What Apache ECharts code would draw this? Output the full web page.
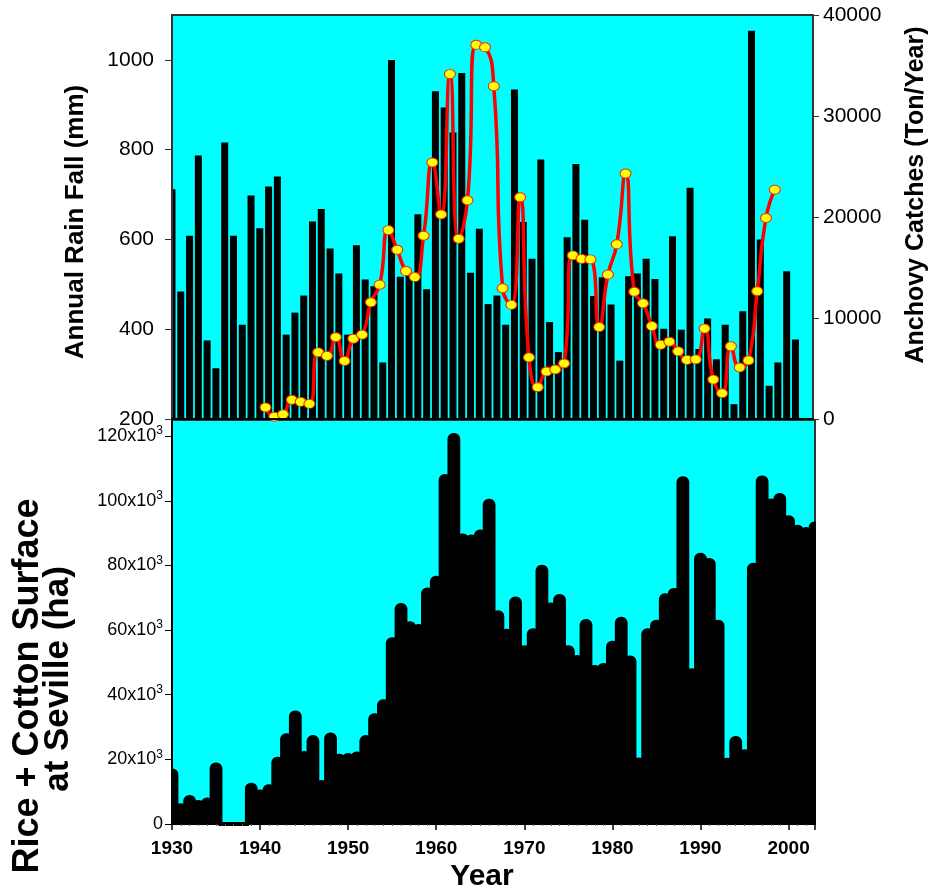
<!DOCTYPE html>
<html>
<head>
<meta charset="utf-8">
<script src="https://cdn.jsdelivr.net/npm/echarts@6/dist/echarts.min.js"></script>
<style>
  html, body { margin: 0; padding: 0; background: #fff; }
  #chart { width: 932px; height: 890px; }
</style>
</head>
<body>
<div id="chart"></div>
<script>
// annual rain fall (mm), one value a year from 1930
var rainStart = 1930;
var rainFall = [712, 484, 608, 787, 375, 313, 816, 608, 410, 698,
                625, 718, 740, 388, 437, 475, 640, 668, 580, 524,
                388, 587, 511, 496, 326, 1000, 517, 519, 656, 489,
                930, 894, 838, 971, 526, 624, 456, 475, 410, 934,
                639, 557, 778, 416, 349, 605, 768, 644, 474, 516,
                455, 330, 518, 524, 557, 512, 401, 607, 399, 715,
                356, 424, 333, 410, 233, 440, 1065, 600, 274, 326,
                529, 377];

// anchovy catches (ton/year), one value a year from 1941
var anchovyStart = 1941;
var anchovy = [1150, 230, 460, 1900, 1700, 1500, 6600, 6250, 8100, 5750,
               7950, 8350, 11550, 13300, 18700, 16750, 14650, 14050, 18150, 25400,
               20250, 34150, 17850, 21650, 37050, 36800, 32950, 12950, 11300, 21950,
               6100, 3150, 4700, 4900, 5500, 16200, 15850, 15800, 9100, 14300,
               17300, 24300, 12600, 11450, 9200, 7350, 7650, 6700, 5850, 5900,
               8950, 3900, 2550, 7200, 5100, 5800, 12650, 19900, 22700];

// rice + cotton surface at Seville (x1000 ha), one value a year from 1930
var surfaceStart = 1930;
var surface = [17.2, 6.4, 9.0, 7.4, 8.2, 19.0, 0, 0, 0, 12.8,
               10.7, 12.3, 20.8, 28.1, 35.1, 22.6, 27.5, 13.6, 28.3, 21.7,
               22.0, 22.4, 27.5, 34.3, 38.6, 57.8, 68.4, 62.7, 61.9, 73.2,
               76.8, 108.3, 121.0, 89.9, 89.6, 91.1, 100.6, 66.1, 60.4, 70.4,
               55.3, 60.6, 80.2, 68.5, 71.2, 55.3, 52.3, 63.4, 49.2, 49.8,
               56.7, 64.1, 52.1, 20.6, 60.6, 63.2, 71.4, 73.0, 107.6, 48.2,
               83.9, 82.3, 63.2, 20.5, 27.2, 23.1, 80.8, 107.8, 100.7, 102.4,
               95.5, 92.6, 91.9, 93.6];

function pairs(start, values) {
    var out = [];
    for (var i = 0; i < values.length; i++) {
        out.push([start + i, values[i]]);
    }
    return out;
}

function plain(v) {
    return String(v);
}

var font = '"Liberation Sans", Arial, sans-serif';
var axisColor = '#333';

function title(text, x, y, size) {
    return {
        type: 'text', x: x, y: y, rotation: Math.PI / 2, z: 10,
        style: {
            text: text, fill: '#000', fontFamily: font, fontWeight: 'bold', fontSize: size,
            align: 'center', verticalAlign: 'middle', textAlign: 'center', textVerticalAlign: 'middle'
        }
    };
}

// bars on a value axis are not clipped sideways, so mask what sticks out of the plots
function mask(x, y, w, h) {
    return {type: 'rect', z: 4, silent: true, shape: {x: x, y: y, width: w, height: h}, style: {fill: '#fff'}};
}

var chart = echarts.init(document.getElementById('chart'));
chart.setOption({
    animation: false,
    backgroundColor: '#fff',
    grid: [
        {left: 172, top: 15, width: 641, height: 404, show: true,
         backgroundColor: '#00ffff', borderColor: axisColor, borderWidth: 2},
        {left: 172, top: 420, width: 643, height: 404, show: true,
         backgroundColor: '#00ffff', borderColor: axisColor, borderWidth: 2}
    ],
    graphic: [
        mask(150, 10, 21, 820),
        mask(816, 421, 20, 405),
        title('Annual Rain Fall (mm)', 76, 222, 26),
        title('Anchovy Catches (Ton/Year)', 916, 195, 25),
        title('Rice + Cotton Surface', 28, 686, 36),
        title('at Seville (ha)', 58, 679, 35),
        {
            type: 'text', x: 482, y: 877, z: 10,
            style: {
                text: 'Year', fill: '#000', fontFamily: font, fontWeight: 'bold', fontSize: 30,
                align: 'center', verticalAlign: 'middle', textAlign: 'center', textVerticalAlign: 'middle'
            }
        }
    ],
    xAxis: [
        {
            gridIndex: 0, type: 'value', min: 1930, max: 2003, z: 10,
            axisLabel: {show: false}, axisTick: {show: false}, splitLine: {show: false},
            axisLine: {lineStyle: {color: '#000', width: 2}}
        },
        {
            // catches are plotted a little before the rain bars
            gridIndex: 0, type: 'value', min: 1930.35, max: 2003.35, show: false
        },
        {
            gridIndex: 1, type: 'value', min: 1930, max: 2003, interval: 10, z: 10,
            axisLine: {lineStyle: {color: '#000', width: 2}},
            axisTick: {length: 6, lineStyle: {color: '#000', width: 1.5}},
            minorTick: {show: true, splitNumber: 10, length: 2, lineStyle: {color: '#555'}},
            splitLine: {show: false},
            axisLabel: {fontFamily: font, fontWeight: 'bold', fontSize: 19, color: '#000',
                        margin: 15, showMaxLabel: false, formatter: plain}
        }
    ],
    yAxis: [
        {
            gridIndex: 0, type: 'value', position: 'left', min: 200, max: 1100, interval: 200, z: 10,
            axisLine: {show: true, lineStyle: {color: axisColor, width: 2}},
            axisTick: {length: 7, lineStyle: {color: axisColor}},
            splitLine: {show: false},
            axisLabel: {fontFamily: font, fontSize: 21, color: '#000', margin: 18,
                        showMaxLabel: false, formatter: plain}
        },
        {
            gridIndex: 0, type: 'value', position: 'right', min: 0, max: 40000, interval: 10000, z: 10,
            axisLine: {show: true, lineStyle: {color: axisColor, width: 2}},
            axisTick: {length: 6, lineStyle: {color: axisColor}},
            splitLine: {show: false},
            axisLabel: {fontFamily: font, fontSize: 21, color: '#000', margin: 10, formatter: plain}
        },
        {
            gridIndex: 1, type: 'value', position: 'left', min: 0, max: 125, interval: 20, z: 10,
            axisLine: {show: true, lineStyle: {color: '#000', width: 2}},
            axisTick: {length: 7, lineStyle: {color: '#000'}},
            splitLine: {show: false},
            axisLabel: {
                fontFamily: font, fontSize: 18, color: '#000', margin: 9, showMaxLabel: false,
                formatter: function (v) { return v === 0 ? '0' : v + 'x10{sup|3}'; },
                rich: {sup: {fontFamily: font, fontSize: 12, color: '#000', verticalAlign: 'top', lineHeight: 22}}
            }
        }
    ],
    series: [
        {
            name: 'Rain', type: 'bar', xAxisIndex: 0, yAxisIndex: 0,
            barWidth: 7, itemStyle: {color: '#000'},
            data: pairs(rainStart, rainFall)
        },
        {
            name: 'Anchovy', type: 'line', xAxisIndex: 1, yAxisIndex: 1,
            smooth: 0.55, z: 5,
            lineStyle: {color: '#ff0000', width: 3.5},
            symbol: 'circle', symbolSize: [11, 9], showAllSymbol: true,
            itemStyle: {color: '#ffff00', borderColor: '#e8300f', borderWidth: 1},
            data: pairs(anchovyStart, anchovy)
        },
        {
            name: 'Surface', type: 'bar', xAxisIndex: 2, yAxisIndex: 2,
            barWidth: 12.8,
            itemStyle: {color: '#000', borderColor: '#000', borderWidth: 4, borderRadius: [4, 4, 0, 0]},
            data: pairs(surfaceStart, surface)
        }
    ]
});
</script>
</body>
</html>
